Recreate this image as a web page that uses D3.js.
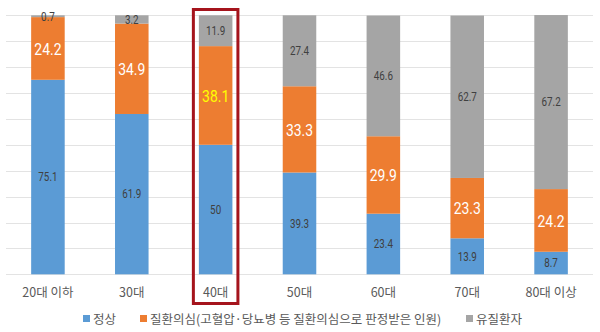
<!DOCTYPE html>
<html><head><meta charset="utf-8">
<script src="https://cdn.jsdelivr.net/npm/d3@7"></script>
<style>body{margin:0;background:#fff}svg{display:block}</style>
</head><body><svg id="c" width="600" height="332"></svg>
<script>
const categories = ["20대 이하","30대","40대","50대","60대","70대","80대 이상"];
const normal = [75.1,61.9,50,39.3,23.4,13.9,8.7];
const suspect = [24.2,34.9,38.1,33.3,29.9,23.3,24.2];
const patient = [0.7,3.2,11.9,27.4,46.6,62.7,67.2];
const seriesNames = ["정상","질환의심(고혈압·당뇨병 등 질환의심으로 판정받은 인원)","유질환자"];
const yTicks = [0,10,20,30,40,50,60,70,80,90,100];
const highlight = "40대";

const colors = ["#5b9bd5","#ed7d31","#a5a5a5"];
const svg = d3.select("#c");
const x = d3.scaleBand().domain(categories).range([6,593]).paddingInner(0.6).paddingOuter(0.3);
const y = d3.scaleLinear().domain([0,100]).range([274.3,15.3]);
const KR = "'Noto Sans CJK KR','Noto Sans',sans-serif";

// gridlines
svg.append("g").selectAll("line").data(yTicks).join("line")
  .attr("x1",6).attr("x2",593).attr("y1",d=>Math.round(y(d))+0.5).attr("y2",d=>Math.round(y(d))+0.5)
  .attr("stroke","#e3e3e3").attr("stroke-width",1);

const rows = categories.map((c,i)=>({cat:c,s0:normal[i],s1:suspect[i],s2:patient[i]}));
const stack = d3.stack().keys(["s0","s1","s2"])(rows);

stack.forEach((layer,li)=>{
  const g = svg.append("g");
  g.selectAll("rect").data(layer).join("rect")
    .attr("x",d=>x(d.data.cat)).attr("width",x.bandwidth())
    .attr("y",d=>y(d[1])).attr("height",d=>y(d[0])-y(d[1]))
    .attr("fill",colors[li]);
});

// labels
stack.forEach((layer,li)=>{
  const g = svg.append("g");
  g.selectAll("text").data(layer).join("text")
    .attr("transform",d=>{
      const cx = x(d.data.cat)+x.bandwidth()/2;
      const cy = (y(d[0])+y(d[1]))/2;
      return `translate(${cx},${cy}) scale(0.82,1)`;
    })
    .attr("text-anchor","middle").attr("dy","0.36em")
    .attr("font-family","Roboto,sans-serif")
    .attr("font-size", li===1?17:12)
    .attr("fill", d=> li===1 ? (d.data.cat===highlight?"#ffff00":"#ffffff") : "#404040")
    .text(d=>d.data["s"+li]);
});

// category axis labels
const xAxis = d3.axisBottom(x).tickSize(0).tickPadding(0);
const ax = svg.append("g").attr("transform","translate(0,288)").call(xAxis);
ax.select(".domain").remove();
ax.selectAll("text").attr("font-family",KR).attr("font-size",12.5).attr("fill","#595959").attr("dy","0.71em");

// highlight box
const hx = x(highlight);
svg.append("rect").attr("x",hx-5.5).attr("y",9.5).attr("width",x.bandwidth()+11).attr("height",294)
  .attr("fill","none").attr("stroke","#a5141c").attr("stroke-width",3);

// legend
const legendX = [83,140,466];
const lg = svg.append("g");
seriesNames.forEach((n,i)=>{
  lg.append("rect").attr("x",legendX[i]).attr("y",315).attr("width",7).attr("height",7).attr("fill",colors[i]);
  lg.append("text").attr("x",legendX[i]+10).attr("y",319).attr("dy","0.36em")
    .attr("font-family",KR).attr("font-size",12.5).attr("fill","#595959").text(n);
});
</script></body></html>
